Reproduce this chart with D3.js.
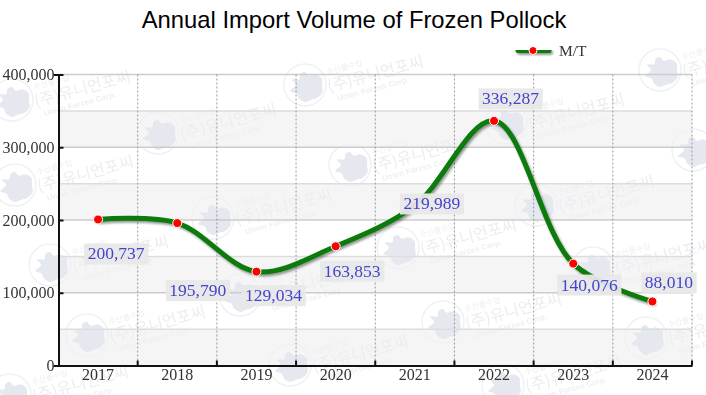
<!DOCTYPE html>
<html>
<head>
<meta charset="utf-8">
<script src="https://cdn.jsdelivr.net/npm/d3@7"></script>
<style>
    html, body { margin: 0; padding: 0; background: #fff; }
    svg { display: block; }
    .serif { font-family: "Liberation Serif", serif; }
</style>
</head>
<body>
<div id="chart"></div>
<script>
var years = ["2017", "2018", "2019", "2020", "2021", "2022", "2023", "2024"];
var volumes = [200737, 195790, 129034, 163853, 219989, 336287, 140076, 88010];
var yTicks = [0, 100000, 200000, 300000, 400000];
var yBands = [0, 100000, 200000, 300000];
var yMinor = [50000, 150000, 250000, 350000];
var seriesName = "M/T";
var chartTitle = "Annual Import Volume of Frozen Pollock";

// label offset from its point, by hand, same order as years
var labelOffsets = [[18, 34.5], [20.5, 67.5], [17, 24], [16.5, 25], [17, -1.5], [16.5, -22], [16, 21.5], [16.5, -18.5]];
// watermark stamp centres
var stamps = [[12, 100], [15, 185], [158, 133], [305, 85], [350, 165], [213, 218], [50, 265], [87, 335],
    [240, 295], [290, 365], [398, 248], [443, 322], [593, 268], [646, 338], [536, 205], [660, 70],
    [693, 150], [506, 123], [503, 385], [10, 395]];
var blobRadii = [13, 10, 15, 18, 17, 19, 18, 16, 17, 15, 12, 16, 9, 14, 8, 12];

var width = 706, height = 395,
    margin = { top: 74.5, right: 14, bottom: 29.5, left: 58.5 };

var svg = d3.select("#chart").append("svg").attr("width", width).attr("height", height);
var defs = svg.append("defs");

var shadow = defs.append("filter").attr("id", "shadow").attr("filterUnits", "userSpaceOnUse")
    .attr("x", 0).attr("y", 0).attr("width", width).attr("height", height);
shadow.append("feDropShadow").attr("dx", 1.5).attr("dy", 2).attr("stdDeviation", 1.2)
    .attr("flood-color", "#000").attr("flood-opacity", 0.4);
defs.append("filter").attr("id", "soft").attr("filterUnits", "userSpaceOnUse")
    .attr("x", 0).attr("y", 0).attr("width", width).attr("height", height)
    .append("feGaussianBlur").attr("stdDeviation", 0.7);
defs.append("clipPath").attr("id", "stampClip").append("rect")
    .attr("x", 0).attr("y", 45).attr("width", width).attr("height", height - 45);

var x = d3.scaleBand().domain(years).range([margin.left, width - margin.right]);
var y = d3.scaleLinear().domain([0, 400000]).range([height - margin.bottom, margin.top]);
var px = function(d, i) { return x(years[i]) + x.bandwidth() / 2; };
var py = function(d) { return y(d); };

// bands and grid
var plotW = width - margin.right - margin.left;
svg.append("g").selectAll("rect").data(yBands).enter().append("rect")
    .attr("x", margin.left).attr("width", plotW)
    .attr("y", function(d) { return y(d + 50000); })
    .attr("height", function(d) { return y(d) - y(d + 50000); })
    .attr("fill", "#f5f5f5");

// watermark
var blob = d3.lineRadial().curve(d3.curveCardinalClosed)
    .angle(function(d, i) { return i / blobRadii.length * 2 * Math.PI; })
    .radius(function(d) { return d; });
var stamp = svg.append("g").attr("clip-path", "url(#stampClip)").append("g").attr("filter", "url(#soft)")
    .selectAll("g").data(stamps).enter().append("g")
    .attr("transform", function(d) { return "translate(" + d[0] + "," + d[1] + ")"; });
stamp.append("circle").attr("r", 21).attr("fill", "none").attr("stroke", "#f0f1f5").attr("stroke-width", 1.5);
stamp.append("path").attr("d", blob(blobRadii)).attr("fill", "#e6e8ef");
var stampText = stamp.append("g").attr("transform", "translate(24,7) rotate(-15)");
stampText.append("text").attr("y", -17).attr("x", 3).attr("font-family", "Noto Sans CJK KR").attr("font-size", 8).attr("fill", "#eceef2").text("수산물수입");
stampText.append("text").attr("font-family", "Noto Sans CJK KR").attr("font-size", 16).attr("fill", "#ebedf2").text("(주)유니언포씨");
stampText.append("text").attr("y", 11).attr("x", 6).attr("font-family", "Liberation Sans").attr("font-size", 8).attr("font-weight", "bold").attr("fill", "#eeeff3").text("Union Forces Corp.");

var grid = svg.append("g");
grid.selectAll("line.major").data(yTicks.slice(1)).enter().append("line")
    .attr("x1", margin.left).attr("x2", margin.left + plotW)
    .attr("y1", y).attr("y2", y).attr("stroke", "#ccc").attr("stroke-width", 1.5);
grid.selectAll("line.minor").data(yMinor).enter().append("line")
    .attr("x1", margin.left).attr("x2", margin.left + plotW)
    .attr("y1", y).attr("y2", y).attr("stroke", "#ddd").attr("stroke-width", 1.5);
grid.selectAll("line.vert").data(years).enter().append("line")
    .attr("x1", function(d) { return x(d) + x.bandwidth(); })
    .attr("x2", function(d) { return x(d) + x.bandwidth(); })
    .attr("y1", margin.top).attr("y2", height - margin.bottom)
    .attr("stroke", "#999").attr("stroke-dasharray", "2,2");

// axes
var yAxis = d3.axisLeft(y).tickValues(yTicks).tickSize(5).tickPadding(0).tickFormat(d3.format(","));
var yG = svg.append("g").attr("transform", "translate(" + margin.left + ",0)").call(yAxis);
yG.select(".domain").attr("stroke", "#111").attr("stroke-width", 2);
yG.selectAll(".tick line").attr("stroke", "#111").attr("stroke-width", 2).attr("x1", 0).attr("x2", 5);
yG.selectAll("text").attr("class", "serif").attr("font-size", 16).attr("fill", "#333").attr("x", -4);

var xAxis = d3.axisBottom(x).tickSize(0).tickPadding(3);
var xG = svg.append("g").attr("transform", "translate(0," + (height - margin.bottom) + ")").call(xAxis);
xG.select(".domain").attr("stroke", "#111").attr("stroke-width", 2);
xG.selectAll("text").attr("class", "serif").attr("font-size", 16).attr("fill", "#333");
xG.selectAll("line.edge").data(years).enter().append("line").attr("class", "edge")
    .attr("x1", function(d) { return x(d) + x.bandwidth(); })
    .attr("x2", function(d) { return x(d) + x.bandwidth(); })
    .attr("y1", -5).attr("y2", 0).attr("stroke", "#111").attr("stroke-width", 2);

svg.append("text").attr("x", 354).attr("y", 28).attr("text-anchor", "middle")
    .attr("font-family", "Liberation Sans").attr("font-size", 23.8).attr("fill", "#000").text(chartTitle);

// legend
var legend = svg.append("g").attr("transform", "translate(515,50.5)");
legend.append("line").attr("x1", 3).attr("x2", 34).attr("stroke", "#0a7a0a").attr("stroke-width", 5)
    .attr("stroke-linecap", "round").attr("filter", "url(#shadow)");
legend.append("circle").attr("cx", 18).attr("r", 4).attr("fill", "#f00").attr("stroke", "#fff").attr("stroke-width", 1);
legend.append("text").attr("class", "serif").attr("x", 44).attr("y", 5).attr("font-size", 15.5).attr("fill", "#333").text(seriesName);

// line
var line = d3.line().x(px).y(py).curve(d3.curveCatmullRom);
svg.append("path").attr("d", line(volumes)).attr("fill", "none")
    .attr("stroke", "#0a7a0a").attr("stroke-width", 5).attr("stroke-linecap", "round").attr("filter", "url(#shadow)");
svg.append("g").selectAll("circle").data(volumes).enter().append("circle")
    .attr("cx", px).attr("cy", py).attr("r", 4.5)
    .attr("fill", "#f00").attr("stroke", "#fff").attr("stroke-width", 1);

// value labels, drawn over the line
var labels = svg.append("g").selectAll("g").data(volumes).enter().append("g")
    .attr("transform", function(d, i) {
        return "translate(" + (px(d, i) + labelOffsets[i][0]) + "," + (py(d) + labelOffsets[i][1]) + ")";
    });
labels.append("text").attr("class", "serif").attr("text-anchor", "middle").attr("y", 5.5)
    .attr("font-size", 17.5).attr("fill", "#4444cc").text(d3.format(","));
labels.insert("rect", "text").each(function() {
    var b = this.parentNode.querySelector("text").getBBox();
    d3.select(this).attr("x", b.x - 3.5).attr("y", -10.5).attr("width", b.width + 7).attr("height", 21);
}).attr("fill", "#e8e8e8").attr("fill-opacity", 0.95);
</script>
</body>
</html>
